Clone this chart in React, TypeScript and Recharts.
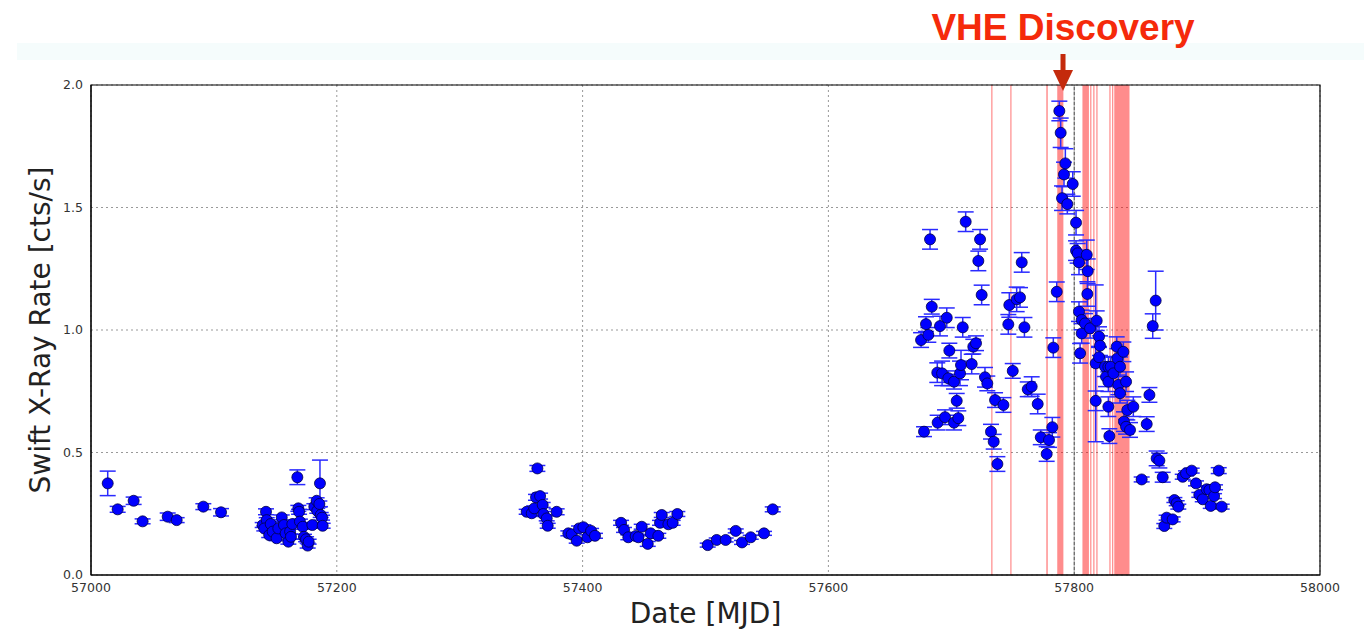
import {
  ScatterChart,
  Scatter,
  XAxis,
  YAxis,
  CartesianGrid,
  ErrorBar,
  ReferenceArea,
  ReferenceLine,
  ReferenceDot,
  Label,
} from 'recharts';

// [MJD, rate, error]
const season2015: number[][] = [
  [57013.6, 0.374, 0.05], [57021.7, 0.268, 0.012], [57034.7, 0.303, 0.015], [57042, 0.219, 0.01],
  [57062.4, 0.238, 0.015], [57069.7, 0.224, 0.01], [57091.4, 0.279, 0.012], [57105.8, 0.256, 0.015],
  [57139.7, 0.204, 0.01], [57142.4, 0.258, 0.012], [57143, 0.224, 0.01], [57141, 0.19, 0.01],
  [57145, 0.163, 0.01], [57146.2, 0.208, 0.01], [57147.8, 0.177, 0.01], [57151, 0.15, 0.01],
  [57152.4, 0.19, 0.01], [57155.2, 0.235, 0.01], [57157, 0.204, 0.01], [57158.4, 0.17, 0.01],
  [57160.6, 0.136, 0.01], [57162, 0.177, 0.01], [57163.8, 0.208, 0.01], [57162.7, 0.156, 0.01],
  [57167.9, 0.399, 0.03], [57168.7, 0.272, 0.012], [57169.3, 0.258, 0.01], [57170, 0.218, 0.01],
  [57172.3, 0.197, 0.01], [57173.3, 0.156, 0.01], [57175, 0.146, 0.01], [57176.3, 0.12, 0.01],
  [57177.1, 0.136, 0.01], [57180.1, 0.204, 0.01], [57181.7, 0.279, 0.012], [57183.6, 0.303, 0.012],
  [57184.1, 0.262, 0.01], [57186.3, 0.374, 0.095], [57185.8, 0.29, 0.012], [57186.9, 0.245, 0.01],
  [57188, 0.234, 0.01], [57188.5, 0.201, 0.01],
];

const season2016a: number[][] = [
  [57354.5, 0.258, 0.01], [57358.6, 0.252, 0.01], [57360.7, 0.272, 0.01], [57362.1, 0.317, 0.012],
  [57363.2, 0.435, 0.012], [57365.4, 0.322, 0.012], [57367.5, 0.286, 0.01], [57368, 0.249, 0.01],
  [57370.8, 0.231, 0.01], [57371.6, 0.201, 0.01], [57378.9, 0.258, 0.012], [57388.4, 0.17, 0.01],
  [57391.1, 0.166, 0.01], [57395.2, 0.14, 0.01], [57397.1, 0.19, 0.01], [57400.6, 0.195, 0.01],
  [57403.9, 0.154, 0.01], [57406.9, 0.18, 0.01], [57410.1, 0.16, 0.01], [57431.3, 0.213, 0.01],
  [57433.7, 0.184, 0.01], [57437.2, 0.154, 0.01], [57443.2, 0.159, 0.01], [57445.4, 0.154, 0.01],
  [57448.1, 0.197, 0.01], [57453, 0.127, 0.01], [57455.4, 0.17, 0.01], [57461.6, 0.16, 0.01],
  [57463, 0.213, 0.01], [57464.4, 0.245, 0.01], [57469.8, 0.207, 0.01], [57473.3, 0.213, 0.01],
  [57477.1, 0.249, 0.01], [57501.8, 0.122, 0.008], [57509.1, 0.143, 0.008], [57516.4, 0.143, 0.008],
  [57524.6, 0.18, 0.008], [57529.7, 0.133, 0.008], [57536.8, 0.154, 0.008], [57547.6, 0.17, 0.008],
  [57554.7, 0.268, 0.01],
];

const preFlare: number[][] = [
  [57675.4, 0.959, 0.03], [57677.8, 0.585, 0.02], [57679.4, 1.024, 0.03], [57681.3, 0.98, 0.03],
  [57682.7, 1.37, 0.04], [57684.1, 1.095, 0.03], [57688.6, 0.826, 0.04], [57688.9, 0.622, 0.03],
  [57690.8, 1.016, 0.04], [57692.5, 0.823, 0.05], [57694.9, 0.644, 0.03], [57696.3, 1.05, 0.04],
  [57697.6, 0.803, 0.03], [57698.4, 0.916, 0.03], [57702.2, 0.789, 0.03], [57702.2, 0.622, 0.03],
  [57704.4, 0.711, 0.03], [57705.7, 0.64, 0.03], [57707.1, 0.823, 0.05], [57707.9, 0.857, 0.06],
  [57709.3, 1.011, 0.04], [57711.7, 1.442, 0.04], [57716.6, 0.861, 0.04], [57717.9, 0.932, 0.03],
  [57720.1, 0.946, 0.03], [57722, 1.282, 0.04], [57723.4, 1.37, 0.04], [57724.7, 1.143, 0.04],
  [57727.4, 0.807, 0.04], [57729.3, 0.782, 0.03], [57732.3, 0.585, 0.03], [57734.5, 0.544, 0.03],
  [57735.6, 0.714, 0.03], [57737.5, 0.453, 0.03], [57742.4, 0.694, 0.03], [57746.4, 1.023, 0.04],
  [57747.2, 1.102, 0.05], [57750, 0.833, 0.03], [57753.2, 1.125, 0.05], [57755.9, 1.133, 0.04],
  [57757.3, 1.276, 0.04], [57759.5, 1.011, 0.04], [57762.2, 0.758, 0.03], [57765.4, 0.769, 0.04],
  [57770.3, 0.698, 0.04], [57772.8, 0.562, 0.03], [57777.6, 0.494, 0.03], [57779.5, 0.551, 0.03],
  [57782.2, 0.603, 0.04], [57783, 0.928, 0.04], [57785.8, 1.156, 0.04],
];

const flare: number[][] = [
  [57787.9, 1.894, 0.04], [57789, 1.805, 0.06], [57790.1, 1.538, 0.05], [57791.7, 1.635, 0.05],
  [57792.8, 1.68, 0.06], [57794.4, 1.514, 0.04], [57798.8, 1.596, 0.05], [57801.5, 1.438, 0.05],
  [57801.5, 1.324, 0.04], [57802.8, 1.313, 0.04], [57803.9, 1.276, 0.05], [57803.9, 1.075, 0.04],
  [57804.8, 0.905, 0.04], [57806.1, 1.041, 0.04], [57806.1, 0.986, 0.04], [57808.8, 1.027, 0.04],
  [57810.2, 1.307, 0.06], [57810.7, 1.147, 0.05], [57811, 1.24, 0.05], [57812.9, 1.007, 0.04],
  [57817.5, 0.864, 0.32], [57817.5, 0.711, 0.04], [57818.3, 1.038, 0.04], [57820.2, 0.973, 0.04],
  [57821, 0.936, 0.04], [57820.2, 0.889, 0.04], [57825.1, 0.85, 0.04], [57825.9, 0.809, 0.04],
  [57827.8, 0.85, 0.04], [57827.8, 0.789, 0.04], [57827.8, 0.687, 0.04], [57828.6, 0.567, 0.03],
  [57829.7, 0.85, 0.04], [57831.9, 0.823, 0.04], [57834.6, 0.932, 0.04], [57835.1, 0.884, 0.04],
  [57835.9, 0.776, 0.04], [57837.3, 0.85, 0.04], [57837.3, 0.742, 0.04], [57840, 0.911, 0.04],
  [57840.5, 0.626, 0.04], [57842.2, 0.789, 0.04], [57842.2, 0.605, 0.03], [57843.2, 0.673, 0.04],
  [57845.4, 0.592, 0.03], [57848.1, 0.687, 0.04],
];

const lateSeason: number[][] = [
  [57854.9, 0.39, 0.01], [57859, 0.616, 0.03], [57861.2, 0.735, 0.03], [57863.9, 1.016, 0.05],
  [57866.3, 1.12, 0.12], [57867.1, 0.476, 0.03], [57869.3, 0.467, 0.03], [57872, 0.399, 0.02],
  [57873.3, 0.2, 0.01], [57875.2, 0.234, 0.01], [57880.1, 0.227, 0.01], [57881.5, 0.306, 0.01],
  [57883.4, 0.293, 0.01], [57884.7, 0.279, 0.01], [57888.3, 0.401, 0.01], [57891, 0.415, 0.01],
  [57895.6, 0.426, 0.01], [57899.1, 0.374, 0.01], [57901.8, 0.327, 0.01], [57904.6, 0.309, 0.01],
  [57907.8, 0.35, 0.01], [57910, 0.347, 0.01], [57911.1, 0.282, 0.01], [57913.8, 0.322, 0.01],
  [57914.6, 0.358, 0.01], [57917.6, 0.426, 0.012], [57920, 0.279, 0.01],
];

// VHE observation windows [start, end] in MJD
const vheWindows: number[][] = [
  [57732.5, 57733.5], [57748, 57749], [57777.3, 57778.5], [57786.2, 57791.2],
  [57806.7, 57812], [57813, 57814], [57815.5, 57816.5], [57818, 57819],
  [57828.6, 57829.6], [57830.8, 57831.8], [57832.6, 57845],
];

const discoveryMjd = 57790.9;
const xTicks = [57000, 57200, 57400, 57600, 57800, 58000];
const yTicks = [0, 0.5, 1.0, 1.5, 2.0];

const seasons = [season2015, season2016a, preFlare, flare, lateSeason];
const toPoints = (rows: number[][]) => rows.map(([mjd, rate, err]) => ({ mjd, rate, err }));

const Dot = (props: any) => (
  <circle cx={props.cx} cy={props.cy} r={5.5} fill="#0000ff" stroke="#000044" strokeWidth={0.8} />
);

const Arrow = (props: any) => {
  const { cx, cy } = props;
  return (
    <g>
      <text
        x={cx}
        y={cy - 45}
        textAnchor="middle"
        fill="#f52a0b"
        fontFamily="Liberation Sans, Arial, sans-serif"
        fontWeight="bold"
        fontSize={37}
      >
        VHE Discovery
      </text>
      <rect x={cx - 2.5} y={cy - 31} width={5} height={17} fill="#c42a0c" />
      <path d={`M${cx - 10},${cy - 15} L${cx + 10},${cy - 15} L${cx},${cy + 6} Z`} fill="#c42a0c" />
    </g>
  );
};

const YTitle = (props: any) => {
  const vb = props.viewBox;
  const x = 40;
  const y = vb.y + vb.height / 2;
  return (
    <text x={x} y={y} transform={`rotate(-90 ${x} ${y})`} textAnchor="middle" dominantBaseline="central"
      fontFamily="DejaVu Sans" fontSize={28} fill="#222">
      Swift X-Ray Rate [cts/s]
    </text>
  );
};

const XTitle = (props: any) => {
  const vb = props.viewBox;
  return (
    <text x={vb.x + vb.width / 2} y={623} textAnchor="middle" fontFamily="DejaVu Sans" fontSize={28} fill="#222">
      Date [MJD]
    </text>
  );
};

export default function App() {
  const tick = { fontFamily: 'DejaVu Sans', fontSize: 12.5, fill: '#333' };
  return (
    <div style={{ position: 'relative', width: 1364, height: 634, background: '#fff', overflow: 'hidden' }}>
      <style>{'body{margin:0}'}</style>
      <div style={{ position: 'absolute', left: 17, top: 43, width: 1347, height: 17, background: '#f5fcfc' }} />
      <div style={{ position: 'absolute', left: 0, top: 0 }}>
        <ScatterChart width={1364} height={634} margin={{ top: 85, right: 44, bottom: 0, left: 0 }}>
          <CartesianGrid stroke="#999" strokeDasharray="2 3" />
          {vheWindows.map(([a, b], i) => (
            <ReferenceArea key={i} x1={a} x2={b} y1={0} y2={2} fill="#ff0000" fillOpacity={0.45} stroke="none" />
          ))}
          <ReferenceLine x={57800} stroke="#333" strokeDasharray="3 2" strokeWidth={1} />
          <XAxis
            type="number"
            dataKey="mjd"
            domain={[57000, 58000]}
            ticks={xTicks}
            tick={tick}
            tickLine={false}
            axisLine={{ stroke: '#000' }}
            height={59}
            allowDataOverflow
          >
            <Label content={XTitle} />
          </XAxis>
          <YAxis
            type="number"
            dataKey="rate"
            domain={[0, 2]}
            ticks={yTicks}
            tick={tick}
            tickFormatter={(v: number) => v.toFixed(1)}
            tickLine={false}
            axisLine={{ stroke: '#000' }}
            width={91}
            allowDataOverflow
          >
            <Label content={YTitle} />
          </YAxis>
          {seasons.map((s, i) => (
            <Scatter key={i} data={toPoints(s)} dataKey="rate" shape={Dot} isAnimationActive={false}>
              <ErrorBar dataKey="err" direction="y" width={8} stroke="#2a2aff" strokeWidth={1.5} />
            </Scatter>
          ))}
          <ReferenceArea x1={57000} x2={58000} y1={0} y2={2} fill="none" stroke="#000" strokeWidth={1.2} />
          <ReferenceDot x={discoveryMjd} y={2} ifOverflow="visible" shape={Arrow} />
        </ScatterChart>
      </div>
    </div>
  );
}
